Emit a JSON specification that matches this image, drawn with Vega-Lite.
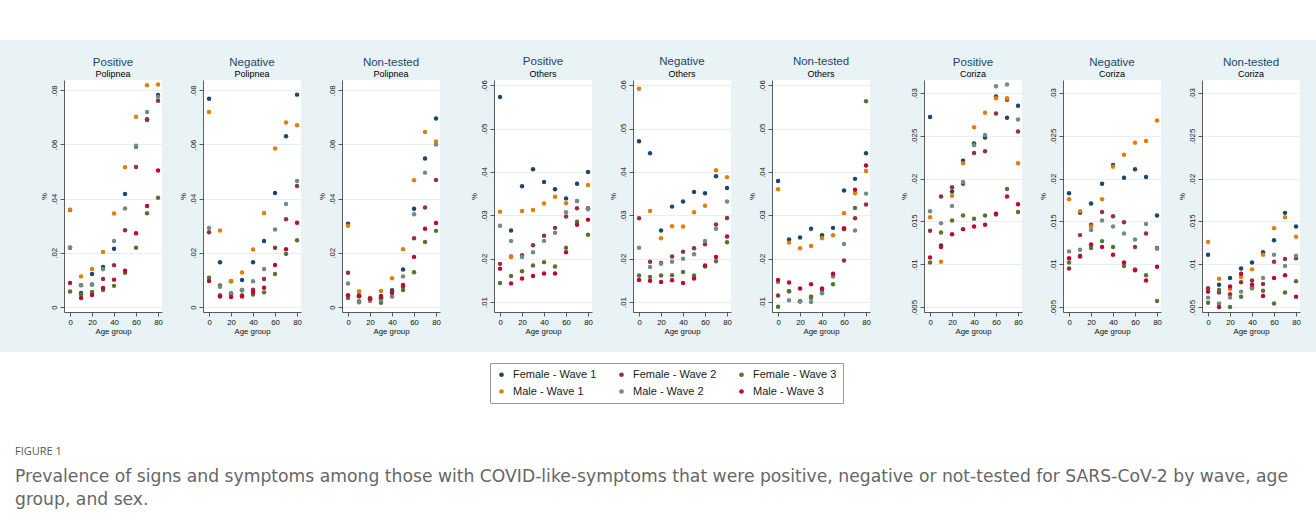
{
"$schema": "https://vega.github.io/schema/vega-lite/v6.json",
"background": "#e9f2f4",
"padding": 0,
"spacing": 16,
"datasets": {
"positive_polipnea": [
{"series":"Female - Wave 1","age":0,"pct":0.0358},{"series":"Female - Wave 1","age":10,"pct":0.0052},{"series":"Female - Wave 1","age":20,"pct":0.0122},{"series":"Female - Wave 1","age":30,"pct":0.0148},{"series":"Female - Wave 1","age":40,"pct":0.0215},{"series":"Female - Wave 1","age":50,"pct":0.0417},{"series":"Female - Wave 1","age":60,"pct":0.0592},{"series":"Female - Wave 1","age":70,"pct":0.0693},{"series":"Female - Wave 1","age":80,"pct":0.0783},
{"series":"Female - Wave 2","age":0,"pct":0.0219},{"series":"Female - Wave 2","age":10,"pct":0.0080},{"series":"Female - Wave 2","age":20,"pct":0.0083},{"series":"Female - Wave 2","age":30,"pct":0.0103},{"series":"Female - Wave 2","age":40,"pct":0.0154},{"series":"Female - Wave 2","age":50,"pct":0.0283},{"series":"Female - Wave 2","age":60,"pct":0.0517},{"series":"Female - Wave 2","age":70,"pct":0.0690},{"series":"Female - Wave 2","age":80,"pct":0.0761},
{"series":"Female - Wave 3","age":0,"pct":0.0057},{"series":"Female - Wave 3","age":10,"pct":0.0046},{"series":"Female - Wave 3","age":20,"pct":0.0055},{"series":"Female - Wave 3","age":30,"pct":0.0063},{"series":"Female - Wave 3","age":40,"pct":0.0078},{"series":"Female - Wave 3","age":50,"pct":0.0126},{"series":"Female - Wave 3","age":60,"pct":0.0219},{"series":"Female - Wave 3","age":70,"pct":0.0346},{"series":"Female - Wave 3","age":80,"pct":0.0403},
{"series":"Male - Wave 1","age":0,"pct":0.0359},{"series":"Male - Wave 1","age":10,"pct":0.0113},{"series":"Male - Wave 1","age":20,"pct":0.0140},{"series":"Male - Wave 1","age":30,"pct":0.0203},{"series":"Male - Wave 1","age":40,"pct":0.0345},{"series":"Male - Wave 1","age":50,"pct":0.0516},{"series":"Male - Wave 1","age":60,"pct":0.0702},{"series":"Male - Wave 1","age":70,"pct":0.0819},{"series":"Male - Wave 1","age":80,"pct":0.0821},
{"series":"Male - Wave 2","age":0,"pct":0.0220},{"series":"Male - Wave 2","age":10,"pct":0.0081},{"series":"Male - Wave 2","age":20,"pct":0.0082},{"series":"Male - Wave 2","age":30,"pct":0.0139},{"series":"Male - Wave 2","age":40,"pct":0.0244},{"series":"Male - Wave 2","age":50,"pct":0.0364},{"series":"Male - Wave 2","age":60,"pct":0.0595},{"series":"Male - Wave 2","age":70,"pct":0.0720},{"series":"Male - Wave 2","age":80,"pct":0.0776},
{"series":"Male - Wave 3","age":0,"pct":0.0089},{"series":"Male - Wave 3","age":10,"pct":0.0033},{"series":"Male - Wave 3","age":20,"pct":0.0044},{"series":"Male - Wave 3","age":30,"pct":0.0070},{"series":"Male - Wave 3","age":40,"pct":0.0101},{"series":"Male - Wave 3","age":50,"pct":0.0134},{"series":"Male - Wave 3","age":60,"pct":0.0272},{"series":"Male - Wave 3","age":70,"pct":0.0373},{"series":"Male - Wave 3","age":80,"pct":0.0504}
],
"negative_polipnea": [
{"series":"Female - Wave 1","age":0,"pct":0.0769},{"series":"Female - Wave 1","age":10,"pct":0.0165},{"series":"Female - Wave 1","age":20,"pct":0.0095},{"series":"Female - Wave 1","age":30,"pct":0.0100},{"series":"Female - Wave 1","age":40,"pct":0.0165},{"series":"Female - Wave 1","age":50,"pct":0.0244},{"series":"Female - Wave 1","age":60,"pct":0.0421},{"series":"Female - Wave 1","age":70,"pct":0.0630},{"series":"Female - Wave 1","age":80,"pct":0.0784},
{"series":"Female - Wave 2","age":0,"pct":0.0276},{"series":"Female - Wave 2","age":10,"pct":0.0079},{"series":"Female - Wave 2","age":20,"pct":0.0051},{"series":"Female - Wave 2","age":30,"pct":0.0062},{"series":"Female - Wave 2","age":40,"pct":0.0064},{"series":"Female - Wave 2","age":50,"pct":0.0103},{"series":"Female - Wave 2","age":60,"pct":0.0219},{"series":"Female - Wave 2","age":70,"pct":0.0324},{"series":"Female - Wave 2","age":80,"pct":0.0447},
{"series":"Female - Wave 3","age":0,"pct":0.0108},{"series":"Female - Wave 3","age":10,"pct":0.0043},{"series":"Female - Wave 3","age":20,"pct":0.0048},{"series":"Female - Wave 3","age":30,"pct":0.0043},{"series":"Female - Wave 3","age":40,"pct":0.0046},{"series":"Female - Wave 3","age":50,"pct":0.0054},{"series":"Female - Wave 3","age":60,"pct":0.0122},{"series":"Female - Wave 3","age":70,"pct":0.0196},{"series":"Female - Wave 3","age":80,"pct":0.0246},
{"series":"Male - Wave 1","age":0,"pct":0.0720},{"series":"Male - Wave 1","age":10,"pct":0.0282},{"series":"Male - Wave 1","age":20,"pct":0.0096},{"series":"Male - Wave 1","age":30,"pct":0.0127},{"series":"Male - Wave 1","age":40,"pct":0.0212},{"series":"Male - Wave 1","age":50,"pct":0.0347},{"series":"Male - Wave 1","age":60,"pct":0.0585},{"series":"Male - Wave 1","age":70,"pct":0.0681},{"series":"Male - Wave 1","age":80,"pct":0.0671},
{"series":"Male - Wave 2","age":0,"pct":0.0292},{"series":"Male - Wave 2","age":10,"pct":0.0075},{"series":"Male - Wave 2","age":20,"pct":0.0050},{"series":"Male - Wave 2","age":30,"pct":0.0064},{"series":"Male - Wave 2","age":40,"pct":0.0095},{"series":"Male - Wave 2","age":50,"pct":0.0140},{"series":"Male - Wave 2","age":60,"pct":0.0286},{"series":"Male - Wave 2","age":70,"pct":0.0380},{"series":"Male - Wave 2","age":80,"pct":0.0465},
{"series":"Male - Wave 3","age":0,"pct":0.0096},{"series":"Male - Wave 3","age":10,"pct":0.0039},{"series":"Male - Wave 3","age":20,"pct":0.0037},{"series":"Male - Wave 3","age":30,"pct":0.0039},{"series":"Male - Wave 3","age":40,"pct":0.0055},{"series":"Male - Wave 3","age":50,"pct":0.0071},{"series":"Male - Wave 3","age":60,"pct":0.0155},{"series":"Male - Wave 3","age":70,"pct":0.0213},{"series":"Male - Wave 3","age":80,"pct":0.0311}
],
"nontested_polipnea": [
{"series":"Female - Wave 1","age":0,"pct":0.0307},{"series":"Female - Wave 1","age":10,"pct":0.0040},{"series":"Female - Wave 1","age":20,"pct":0.0031},{"series":"Female - Wave 1","age":30,"pct":0.0041},{"series":"Female - Wave 1","age":40,"pct":0.0062},{"series":"Female - Wave 1","age":50,"pct":0.0138},{"series":"Female - Wave 1","age":60,"pct":0.0363},{"series":"Female - Wave 1","age":70,"pct":0.0548},{"series":"Female - Wave 1","age":80,"pct":0.0696},
{"series":"Female - Wave 2","age":0,"pct":0.0126},{"series":"Female - Wave 2","age":10,"pct":0.0043},{"series":"Female - Wave 2","age":20,"pct":0.0033},{"series":"Female - Wave 2","age":30,"pct":0.0031},{"series":"Female - Wave 2","age":40,"pct":0.0055},{"series":"Female - Wave 2","age":50,"pct":0.0075},{"series":"Female - Wave 2","age":60,"pct":0.0254},{"series":"Female - Wave 2","age":70,"pct":0.0367},{"series":"Female - Wave 2","age":80,"pct":0.0469},
{"series":"Female - Wave 3","age":0,"pct":0.0033},{"series":"Female - Wave 3","age":10,"pct":0.0021},{"series":"Female - Wave 3","age":20,"pct":0.0026},{"series":"Female - Wave 3","age":30,"pct":0.0016},{"series":"Female - Wave 3","age":40,"pct":0.0039},{"series":"Female - Wave 3","age":50,"pct":0.0063},{"series":"Female - Wave 3","age":60,"pct":0.0128},{"series":"Female - Wave 3","age":70,"pct":0.0240},{"series":"Female - Wave 3","age":80,"pct":0.0281},
{"series":"Male - Wave 1","age":0,"pct":0.0300},{"series":"Male - Wave 1","age":10,"pct":0.0058},{"series":"Male - Wave 1","age":20,"pct":0.0031},{"series":"Male - Wave 1","age":30,"pct":0.0059},{"series":"Male - Wave 1","age":40,"pct":0.0106},{"series":"Male - Wave 1","age":50,"pct":0.0213},{"series":"Male - Wave 1","age":60,"pct":0.0468},{"series":"Male - Wave 1","age":70,"pct":0.0646},{"series":"Male - Wave 1","age":80,"pct":0.0611},
{"series":"Male - Wave 2","age":0,"pct":0.0087},{"series":"Male - Wave 2","age":10,"pct":0.0017},{"series":"Male - Wave 2","age":20,"pct":0.0022},{"series":"Male - Wave 2","age":30,"pct":0.0025},{"series":"Male - Wave 2","age":40,"pct":0.0041},{"series":"Male - Wave 2","age":50,"pct":0.0113},{"series":"Male - Wave 2","age":60,"pct":0.0342},{"series":"Male - Wave 2","age":70,"pct":0.0496},{"series":"Male - Wave 2","age":80,"pct":0.0600},
{"series":"Male - Wave 3","age":0,"pct":0.0043},{"series":"Male - Wave 3","age":10,"pct":0.0041},{"series":"Male - Wave 3","age":20,"pct":0.0030},{"series":"Male - Wave 3","age":30,"pct":0.0036},{"series":"Male - Wave 3","age":40,"pct":0.0053},{"series":"Male - Wave 3","age":50,"pct":0.0081},{"series":"Male - Wave 3","age":60,"pct":0.0185},{"series":"Male - Wave 3","age":70,"pct":0.0289},{"series":"Male - Wave 3","age":80,"pct":0.0310}
],
"positive_others": [
{"series":"Female - Wave 1","age":0,"pct":0.0573},{"series":"Female - Wave 1","age":10,"pct":0.0265},{"series":"Female - Wave 1","age":20,"pct":0.0367},{"series":"Female - Wave 1","age":30,"pct":0.0406},{"series":"Female - Wave 1","age":40,"pct":0.0377},{"series":"Female - Wave 1","age":50,"pct":0.0360},{"series":"Female - Wave 1","age":60,"pct":0.0339},{"series":"Female - Wave 1","age":70,"pct":0.0373},{"series":"Female - Wave 1","age":80,"pct":0.0400},
{"series":"Female - Wave 2","age":0,"pct":0.0188},{"series":"Female - Wave 2","age":10,"pct":0.0205},{"series":"Female - Wave 2","age":20,"pct":0.0208},{"series":"Female - Wave 2","age":30,"pct":0.0231},{"series":"Female - Wave 2","age":40,"pct":0.0253},{"series":"Female - Wave 2","age":50,"pct":0.0271},{"series":"Female - Wave 2","age":60,"pct":0.0297},{"series":"Female - Wave 2","age":70,"pct":0.0316},{"series":"Female - Wave 2","age":80,"pct":0.0316},
{"series":"Female - Wave 3","age":0,"pct":0.0144},{"series":"Female - Wave 3","age":10,"pct":0.0160},{"series":"Female - Wave 3","age":20,"pct":0.0171},{"series":"Female - Wave 3","age":30,"pct":0.0184},{"series":"Female - Wave 3","age":40,"pct":0.0192},{"series":"Female - Wave 3","age":50,"pct":0.0182},{"series":"Female - Wave 3","age":60,"pct":0.0225},{"series":"Female - Wave 3","age":70,"pct":0.0285},{"series":"Female - Wave 3","age":80,"pct":0.0255},
{"series":"Male - Wave 1","age":0,"pct":0.0308},{"series":"Male - Wave 1","age":10,"pct":0.0204},{"series":"Male - Wave 1","age":20,"pct":0.0310},{"series":"Male - Wave 1","age":30,"pct":0.0312},{"series":"Male - Wave 1","age":40,"pct":0.0327},{"series":"Male - Wave 1","age":50,"pct":0.0343},{"series":"Male - Wave 1","age":60,"pct":0.0328},{"series":"Male - Wave 1","age":70,"pct":0.0333},{"series":"Male - Wave 1","age":80,"pct":0.0370},
{"series":"Male - Wave 2","age":0,"pct":0.0276},{"series":"Male - Wave 2","age":10,"pct":0.0241},{"series":"Male - Wave 2","age":20,"pct":0.0204},{"series":"Male - Wave 2","age":30,"pct":0.0215},{"series":"Male - Wave 2","age":40,"pct":0.0241},{"series":"Male - Wave 2","age":50,"pct":0.0260},{"series":"Male - Wave 2","age":60,"pct":0.0307},{"series":"Male - Wave 2","age":70,"pct":0.0333},{"series":"Male - Wave 2","age":80,"pct":0.0314},
{"series":"Male - Wave 3","age":0,"pct":0.0177},{"series":"Male - Wave 3","age":10,"pct":0.0143},{"series":"Male - Wave 3","age":20,"pct":0.0154},{"series":"Male - Wave 3","age":30,"pct":0.0160},{"series":"Male - Wave 3","age":40,"pct":0.0166},{"series":"Male - Wave 3","age":50,"pct":0.0166},{"series":"Male - Wave 3","age":60,"pct":0.0215},{"series":"Male - Wave 3","age":70,"pct":0.0278},{"series":"Male - Wave 3","age":80,"pct":0.0290}
],
"negative_others": [
{"series":"Female - Wave 1","age":0,"pct":0.0471},{"series":"Female - Wave 1","age":10,"pct":0.0443},{"series":"Female - Wave 1","age":20,"pct":0.0265},{"series":"Female - Wave 1","age":30,"pct":0.0320},{"series":"Female - Wave 1","age":40,"pct":0.0332},{"series":"Female - Wave 1","age":50,"pct":0.0354},{"series":"Female - Wave 1","age":60,"pct":0.0351},{"series":"Female - Wave 1","age":70,"pct":0.0390},{"series":"Female - Wave 1","age":80,"pct":0.0363},
{"series":"Female - Wave 2","age":0,"pct":0.0293},{"series":"Female - Wave 2","age":10,"pct":0.0193},{"series":"Female - Wave 2","age":20,"pct":0.0190},{"series":"Female - Wave 2","age":30,"pct":0.0205},{"series":"Female - Wave 2","age":40,"pct":0.0216},{"series":"Female - Wave 2","age":50,"pct":0.0224},{"series":"Female - Wave 2","age":60,"pct":0.0233},{"series":"Female - Wave 2","age":70,"pct":0.0279},{"series":"Female - Wave 2","age":80,"pct":0.0294},
{"series":"Female - Wave 3","age":0,"pct":0.0161},{"series":"Female - Wave 3","age":10,"pct":0.0158},{"series":"Female - Wave 3","age":20,"pct":0.0161},{"series":"Female - Wave 3","age":30,"pct":0.0162},{"series":"Female - Wave 3","age":40,"pct":0.0169},{"series":"Female - Wave 3","age":50,"pct":0.0161},{"series":"Female - Wave 3","age":60,"pct":0.0182},{"series":"Female - Wave 3","age":70,"pct":0.0194},{"series":"Female - Wave 3","age":80,"pct":0.0238},
{"series":"Male - Wave 1","age":0,"pct":0.0592},{"series":"Male - Wave 1","age":10,"pct":0.0310},{"series":"Male - Wave 1","age":20,"pct":0.0247},{"series":"Male - Wave 1","age":30,"pct":0.0275},{"series":"Male - Wave 1","age":40,"pct":0.0274},{"series":"Male - Wave 1","age":50,"pct":0.0307},{"series":"Male - Wave 1","age":60,"pct":0.0322},{"series":"Male - Wave 1","age":70,"pct":0.0404},{"series":"Male - Wave 1","age":80,"pct":0.0388},
{"series":"Male - Wave 2","age":0,"pct":0.0225},{"series":"Male - Wave 2","age":10,"pct":0.0181},{"series":"Male - Wave 2","age":20,"pct":0.0188},{"series":"Male - Wave 2","age":30,"pct":0.0193},{"series":"Male - Wave 2","age":40,"pct":0.0200},{"series":"Male - Wave 2","age":50,"pct":0.0210},{"series":"Male - Wave 2","age":60,"pct":0.0241},{"series":"Male - Wave 2","age":70,"pct":0.0269},{"series":"Male - Wave 2","age":80,"pct":0.0332},
{"series":"Male - Wave 3","age":0,"pct":0.0151},{"series":"Male - Wave 3","age":10,"pct":0.0149},{"series":"Male - Wave 3","age":20,"pct":0.0146},{"series":"Male - Wave 3","age":30,"pct":0.0150},{"series":"Male - Wave 3","age":40,"pct":0.0144},{"series":"Male - Wave 3","age":50,"pct":0.0154},{"series":"Male - Wave 3","age":60,"pct":0.0184},{"series":"Male - Wave 3","age":70,"pct":0.0204},{"series":"Male - Wave 3","age":80,"pct":0.0251}
],
"nontested_others": [
{"series":"Female - Wave 1","age":0,"pct":0.0379},{"series":"Female - Wave 1","age":10,"pct":0.0244},{"series":"Female - Wave 1","age":20,"pct":0.0249},{"series":"Female - Wave 1","age":30,"pct":0.0269},{"series":"Female - Wave 1","age":40,"pct":0.0254},{"series":"Female - Wave 1","age":50,"pct":0.0271},{"series":"Female - Wave 1","age":60,"pct":0.0357},{"series":"Female - Wave 1","age":70,"pct":0.0384},{"series":"Female - Wave 1","age":80,"pct":0.0443},
{"series":"Female - Wave 2","age":0,"pct":0.0115},{"series":"Female - Wave 2","age":10,"pct":0.0125},{"series":"Female - Wave 2","age":20,"pct":0.0102},{"series":"Female - Wave 2","age":30,"pct":0.0112},{"series":"Female - Wave 2","age":40,"pct":0.0128},{"series":"Female - Wave 2","age":50,"pct":0.0163},{"series":"Female - Wave 2","age":60,"pct":0.0196},{"series":"Female - Wave 2","age":70,"pct":0.0293},{"series":"Female - Wave 2","age":80,"pct":0.0325},
{"series":"Female - Wave 3","age":0,"pct":0.0089},{"series":"Female - Wave 3","age":10,"pct":0.0125},{"series":"Female - Wave 3","age":20,"pct":0.0102},{"series":"Female - Wave 3","age":30,"pct":0.0110},{"series":"Female - Wave 3","age":40,"pct":0.0121},{"series":"Female - Wave 3","age":50,"pct":0.0141},{"series":"Female - Wave 3","age":60,"pct":0.0268},{"series":"Female - Wave 3","age":70,"pct":0.0317},{"series":"Female - Wave 3","age":80,"pct":0.0563},
{"series":"Male - Wave 1","age":0,"pct":0.0360},{"series":"Male - Wave 1","age":10,"pct":0.0237},{"series":"Male - Wave 1","age":20,"pct":0.0224},{"series":"Male - Wave 1","age":30,"pct":0.0229},{"series":"Male - Wave 1","age":40,"pct":0.0247},{"series":"Male - Wave 1","age":50,"pct":0.0254},{"series":"Male - Wave 1","age":60,"pct":0.0305},{"series":"Male - Wave 1","age":70,"pct":0.0351},{"series":"Male - Wave 1","age":80,"pct":0.0402},
{"series":"Male - Wave 2","age":0,"pct":0.0146},{"series":"Male - Wave 2","age":10,"pct":0.0104},{"series":"Male - Wave 2","age":20,"pct":0.0102},{"series":"Male - Wave 2","age":30,"pct":0.0100},{"series":"Male - Wave 2","age":40,"pct":0.0120},{"series":"Male - Wave 2","age":50,"pct":0.0159},{"series":"Male - Wave 2","age":60,"pct":0.0234},{"series":"Male - Wave 2","age":70,"pct":0.0265},{"series":"Male - Wave 2","age":80,"pct":0.0350},
{"series":"Male - Wave 3","age":0,"pct":0.0151},{"series":"Male - Wave 3","age":10,"pct":0.0145},{"series":"Male - Wave 3","age":20,"pct":0.0131},{"series":"Male - Wave 3","age":30,"pct":0.0141},{"series":"Male - Wave 3","age":40,"pct":0.0131},{"series":"Male - Wave 3","age":50,"pct":0.0165},{"series":"Male - Wave 3","age":60,"pct":0.0270},{"series":"Male - Wave 3","age":70,"pct":0.0359},{"series":"Male - Wave 3","age":80,"pct":0.0415}
],
"positive_coriza": [
{"series":"Female - Wave 1","age":0,"pct":0.0272},{"series":"Female - Wave 1","age":10,"pct":0.0122},{"series":"Female - Wave 1","age":20,"pct":0.0185},{"series":"Female - Wave 1","age":30,"pct":0.0221},{"series":"Female - Wave 1","age":40,"pct":0.0241},{"series":"Female - Wave 1","age":50,"pct":0.0248},{"series":"Female - Wave 1","age":60,"pct":0.0296},{"series":"Female - Wave 1","age":70,"pct":0.0271},{"series":"Female - Wave 1","age":80,"pct":0.0285},
{"series":"Female - Wave 2","age":0,"pct":0.0139},{"series":"Female - Wave 2","age":10,"pct":0.0179},{"series":"Female - Wave 2","age":20,"pct":0.0190},{"series":"Female - Wave 2","age":30,"pct":0.0194},{"series":"Female - Wave 2","age":40,"pct":0.0230},{"series":"Female - Wave 2","age":50,"pct":0.0232},{"series":"Female - Wave 2","age":60,"pct":0.0276},{"series":"Female - Wave 2","age":70,"pct":0.0292},{"series":"Female - Wave 2","age":80,"pct":0.0255},
{"series":"Female - Wave 3","age":0,"pct":0.0102},{"series":"Female - Wave 3","age":10,"pct":0.0137},{"series":"Female - Wave 3","age":20,"pct":0.0151},{"series":"Female - Wave 3","age":30,"pct":0.0157},{"series":"Female - Wave 3","age":40,"pct":0.0153},{"series":"Female - Wave 3","age":50,"pct":0.0157},{"series":"Female - Wave 3","age":60,"pct":0.0158},{"series":"Female - Wave 3","age":70,"pct":0.0188},{"series":"Female - Wave 3","age":80,"pct":0.0161},
{"series":"Male - Wave 1","age":0,"pct":0.0155},{"series":"Male - Wave 1","age":10,"pct":0.0103},{"series":"Male - Wave 1","age":20,"pct":0.0180},{"series":"Male - Wave 1","age":30,"pct":0.0218},{"series":"Male - Wave 1","age":40,"pct":0.0260},{"series":"Male - Wave 1","age":50,"pct":0.0277},{"series":"Male - Wave 1","age":60,"pct":0.0294},{"series":"Male - Wave 1","age":70,"pct":0.0294},{"series":"Male - Wave 1","age":80,"pct":0.0218},
{"series":"Male - Wave 2","age":0,"pct":0.0162},{"series":"Male - Wave 2","age":10,"pct":0.0148},{"series":"Male - Wave 2","age":20,"pct":0.0168},{"series":"Male - Wave 2","age":30,"pct":0.0196},{"series":"Male - Wave 2","age":40,"pct":0.0239},{"series":"Male - Wave 2","age":50,"pct":0.0251},{"series":"Male - Wave 2","age":60,"pct":0.0308},{"series":"Male - Wave 2","age":70,"pct":0.0310},{"series":"Male - Wave 2","age":80,"pct":0.0269},
{"series":"Male - Wave 3","age":0,"pct":0.0108},{"series":"Male - Wave 3","age":10,"pct":0.0120},{"series":"Male - Wave 3","age":20,"pct":0.0135},{"series":"Male - Wave 3","age":30,"pct":0.0141},{"series":"Male - Wave 3","age":40,"pct":0.0144},{"series":"Male - Wave 3","age":50,"pct":0.0146},{"series":"Male - Wave 3","age":60,"pct":0.0159},{"series":"Male - Wave 3","age":70,"pct":0.0179},{"series":"Male - Wave 3","age":80,"pct":0.0170}
],
"negative_coriza": [
{"series":"Female - Wave 1","age":0,"pct":0.0183},{"series":"Female - Wave 1","age":10,"pct":0.0160},{"series":"Female - Wave 1","age":20,"pct":0.0171},{"series":"Female - Wave 1","age":30,"pct":0.0194},{"series":"Female - Wave 1","age":40,"pct":0.0216},{"series":"Female - Wave 1","age":50,"pct":0.0201},{"series":"Female - Wave 1","age":60,"pct":0.0211},{"series":"Female - Wave 1","age":70,"pct":0.0202},{"series":"Female - Wave 1","age":80,"pct":0.0157},
{"series":"Female - Wave 2","age":0,"pct":0.0095},{"series":"Female - Wave 2","age":10,"pct":0.0134},{"series":"Female - Wave 2","age":20,"pct":0.0146},{"series":"Female - Wave 2","age":30,"pct":0.0161},{"series":"Female - Wave 2","age":40,"pct":0.0156},{"series":"Female - Wave 2","age":50,"pct":0.0149},{"series":"Female - Wave 2","age":60,"pct":0.0120},{"series":"Female - Wave 2","age":70,"pct":0.0136},{"series":"Female - Wave 2","age":80,"pct":0.0119},
{"series":"Female - Wave 3","age":0,"pct":0.0102},{"series":"Female - Wave 3","age":10,"pct":0.0110},{"series":"Female - Wave 3","age":20,"pct":0.0119},{"series":"Female - Wave 3","age":30,"pct":0.0127},{"series":"Female - Wave 3","age":40,"pct":0.0120},{"series":"Female - Wave 3","age":50,"pct":0.0098},{"series":"Female - Wave 3","age":60,"pct":0.0094},{"series":"Female - Wave 3","age":70,"pct":0.0087},{"series":"Female - Wave 3","age":80,"pct":0.0057},
{"series":"Male - Wave 1","age":0,"pct":0.0176},{"series":"Male - Wave 1","age":10,"pct":0.0162},{"series":"Male - Wave 1","age":20,"pct":0.0144},{"series":"Male - Wave 1","age":30,"pct":0.0176},{"series":"Male - Wave 1","age":40,"pct":0.0214},{"series":"Male - Wave 1","age":50,"pct":0.0228},{"series":"Male - Wave 1","age":60,"pct":0.0242},{"series":"Male - Wave 1","age":70,"pct":0.0244},{"series":"Male - Wave 1","age":80,"pct":0.0268},
{"series":"Male - Wave 2","age":0,"pct":0.0115},{"series":"Male - Wave 2","age":10,"pct":0.0117},{"series":"Male - Wave 2","age":20,"pct":0.0140},{"series":"Male - Wave 2","age":30,"pct":0.0151},{"series":"Male - Wave 2","age":40,"pct":0.0144},{"series":"Male - Wave 2","age":50,"pct":0.0136},{"series":"Male - Wave 2","age":60,"pct":0.0129},{"series":"Male - Wave 2","age":70,"pct":0.0147},{"series":"Male - Wave 2","age":80,"pct":0.0118},
{"series":"Male - Wave 3","age":0,"pct":0.0107},{"series":"Male - Wave 3","age":10,"pct":0.0109},{"series":"Male - Wave 3","age":20,"pct":0.0123},{"series":"Male - Wave 3","age":30,"pct":0.0120},{"series":"Male - Wave 3","age":40,"pct":0.0111},{"series":"Male - Wave 3","age":50,"pct":0.0102},{"series":"Male - Wave 3","age":60,"pct":0.0093},{"series":"Male - Wave 3","age":70,"pct":0.0081},{"series":"Male - Wave 3","age":80,"pct":0.0097}
],
"nontested_coriza": [
{"series":"Female - Wave 1","age":0,"pct":0.0111},{"series":"Female - Wave 1","age":10,"pct":0.0076},{"series":"Female - Wave 1","age":20,"pct":0.0084},{"series":"Female - Wave 1","age":30,"pct":0.0095},{"series":"Female - Wave 1","age":40,"pct":0.0102},{"series":"Female - Wave 1","age":50,"pct":0.0114},{"series":"Female - Wave 1","age":60,"pct":0.0128},{"series":"Female - Wave 1","age":70,"pct":0.0160},{"series":"Female - Wave 1","age":80,"pct":0.0144},
{"series":"Female - Wave 2","age":0,"pct":0.0072},{"series":"Female - Wave 2","age":10,"pct":0.0067},{"series":"Female - Wave 2","age":20,"pct":0.0065},{"series":"Female - Wave 2","age":30,"pct":0.0079},{"series":"Female - Wave 2","age":40,"pct":0.0081},{"series":"Female - Wave 2","age":50,"pct":0.0077},{"series":"Female - Wave 2","age":60,"pct":0.0103},{"series":"Female - Wave 2","age":70,"pct":0.0106},{"series":"Female - Wave 2","age":80,"pct":0.0107},
{"series":"Female - Wave 3","age":0,"pct":0.0055},{"series":"Female - Wave 3","age":10,"pct":0.0070},{"series":"Female - Wave 3","age":20,"pct":0.0050},{"series":"Female - Wave 3","age":30,"pct":0.0062},{"series":"Female - Wave 3","age":40,"pct":0.0072},{"series":"Female - Wave 3","age":50,"pct":0.0069},{"series":"Female - Wave 3","age":60,"pct":0.0054},{"series":"Female - Wave 3","age":70,"pct":0.0067},{"series":"Female - Wave 3","age":80,"pct":0.0080},
{"series":"Male - Wave 1","age":0,"pct":0.0126},{"series":"Male - Wave 1","age":10,"pct":0.0083},{"series":"Male - Wave 1","age":20,"pct":0.0071},{"series":"Male - Wave 1","age":30,"pct":0.0085},{"series":"Male - Wave 1","age":40,"pct":0.0094},{"series":"Male - Wave 1","age":50,"pct":0.0111},{"series":"Male - Wave 1","age":60,"pct":0.0142},{"series":"Male - Wave 1","age":70,"pct":0.0155},{"series":"Male - Wave 1","age":80,"pct":0.0132},
{"series":"Male - Wave 2","age":0,"pct":0.0061},{"series":"Male - Wave 2","age":10,"pct":0.0054},{"series":"Male - Wave 2","age":20,"pct":0.0061},{"series":"Male - Wave 2","age":30,"pct":0.0068},{"series":"Male - Wave 2","age":40,"pct":0.0073},{"series":"Male - Wave 2","age":50,"pct":0.0084},{"series":"Male - Wave 2","age":60,"pct":0.0111},{"series":"Male - Wave 2","age":70,"pct":0.0098},{"series":"Male - Wave 2","age":80,"pct":0.0110},
{"series":"Male - Wave 3","age":0,"pct":0.0068},{"series":"Male - Wave 3","age":10,"pct":0.0050},{"series":"Male - Wave 3","age":20,"pct":0.0074},{"series":"Male - Wave 3","age":30,"pct":0.0089},{"series":"Male - Wave 3","age":40,"pct":0.0076},{"series":"Male - Wave 3","age":50,"pct":0.0063},{"series":"Male - Wave 3","age":60,"pct":0.0084},{"series":"Male - Wave 3","age":70,"pct":0.0087},{"series":"Male - Wave 3","age":80,"pct":0.0062}
]
},
"vconcat": [
{"width": 1316, "height": 40, "data": {"values": []}, "mark": "point", "encoding": {}, "view": {"fill": "white", "stroke": null}},
{"spacing": 0, "bounds": "flush", "hconcat": [
{"width": 63.5, "height": 232, "data": {"values": []}, "mark": "point", "encoding": {}, "view": {"fill": "#e9f2f4", "stroke": null}},
{"width": 98, "height": 232, "data": {"name": "positive_polipnea"}, "title": {"text": "Positive", "subtitle": "Polipnea"}, "mark": {"type": "circle", "size": 20, "opacity": 1},
 "encoding": {"x": {"field": "age", "type": "quantitative", "scale": {"domain": [-5.5, 83.6], "nice": false, "zero": false}, "axis": {"values": [0,20,40,60,80], "title": "Age group"}},
 "y": {"field": "pct", "type": "quantitative", "scale": {"domain": [-0.00185, 0.0838], "nice": false, "zero": false}, "axis": {"values": [0,0.02,0.04,0.06,0.08], "title": "%", "labelExpr": "datum.value == 0 ? '0' : slice(format(datum.value, '~g'), 1)"}},
 "color": {"field": "series", "type": "nominal", "scale": {"domain": ["Female - Wave 1","Female - Wave 2","Female - Wave 3","Male - Wave 1","Male - Wave 2","Male - Wave 3"], "range": ["#1a476f","#90353b","#55752f","#e37e00","#6e8e84","#c10534"]}, "legend": {"title": null}}}},
{"width": 40.5, "height": 232, "data": {"values": []}, "mark": "point", "encoding": {}, "view": {"fill": "#e9f2f4", "stroke": null}},
{"width": 98, "height": 232, "data": {"name": "negative_polipnea"}, "title": {"text": "Negative", "subtitle": "Polipnea"}, "mark": {"type": "circle", "size": 20, "opacity": 1},
 "encoding": {"x": {"field": "age", "type": "quantitative", "scale": {"domain": [-5.5, 83.6], "nice": false, "zero": false}, "axis": {"values": [0,20,40,60,80], "title": "Age group"}},
 "y": {"field": "pct", "type": "quantitative", "scale": {"domain": [-0.00185, 0.0838], "nice": false, "zero": false}, "axis": {"values": [0,0.02,0.04,0.06,0.08], "title": "%", "labelExpr": "datum.value == 0 ? '0' : slice(format(datum.value, '~g'), 1)"}},
 "color": {"field": "series", "type": "nominal", "scale": {"domain": ["Female - Wave 1","Female - Wave 2","Female - Wave 3","Male - Wave 1","Male - Wave 2","Male - Wave 3"], "range": ["#1a476f","#90353b","#55752f","#e37e00","#6e8e84","#c10534"]}, "legend": {"title": null}}}},
{"width": 40.5, "height": 232, "data": {"values": []}, "mark": "point", "encoding": {}, "view": {"fill": "#e9f2f4", "stroke": null}},
{"width": 98, "height": 232, "data": {"name": "nontested_polipnea"}, "title": {"text": "Non-tested", "subtitle": "Polipnea"}, "mark": {"type": "circle", "size": 20, "opacity": 1},
 "encoding": {"x": {"field": "age", "type": "quantitative", "scale": {"domain": [-5.5, 83.6], "nice": false, "zero": false}, "axis": {"values": [0,20,40,60,80], "title": "Age group"}},
 "y": {"field": "pct", "type": "quantitative", "scale": {"domain": [-0.00185, 0.0838], "nice": false, "zero": false}, "axis": {"values": [0,0.02,0.04,0.06,0.08], "title": "%", "labelExpr": "datum.value == 0 ? '0' : slice(format(datum.value, '~g'), 1)"}},
 "color": {"field": "series", "type": "nominal", "scale": {"domain": ["Female - Wave 1","Female - Wave 2","Female - Wave 3","Male - Wave 1","Male - Wave 2","Male - Wave 3"], "range": ["#1a476f","#90353b","#55752f","#e37e00","#6e8e84","#c10534"]}, "legend": {"title": null}}}},
{"width": 53.5, "height": 232, "data": {"values": []}, "mark": "point", "encoding": {}, "view": {"fill": "#e9f2f4", "stroke": null}},
{"width": 98, "height": 232, "data": {"name": "positive_others"}, "title": {"text": "Positive", "subtitle": "Others"}, "mark": {"type": "circle", "size": 20, "opacity": 1},
 "encoding": {"x": {"field": "age", "type": "quantitative", "scale": {"domain": [-5.5, 83.6], "nice": false, "zero": false}, "axis": {"values": [0,20,40,60,80], "title": "Age group"}},
 "y": {"field": "pct", "type": "quantitative", "scale": {"domain": [0.0077, 0.0612], "nice": false, "zero": false}, "axis": {"values": [0.01,0.02,0.03,0.04,0.05,0.06], "title": "%", "labelExpr": "datum.value == 0 ? '0' : slice(format(datum.value, '~g'), 1)"}},
 "color": {"field": "series", "type": "nominal", "scale": {"domain": ["Female - Wave 1","Female - Wave 2","Female - Wave 3","Male - Wave 1","Male - Wave 2","Male - Wave 3"], "range": ["#1a476f","#90353b","#55752f","#e37e00","#6e8e84","#c10534"]}, "legend": {"title": null}}}},
{"width": 40.5, "height": 232, "data": {"values": []}, "mark": "point", "encoding": {}, "view": {"fill": "#e9f2f4", "stroke": null}},
{"width": 98, "height": 232, "data": {"name": "negative_others"}, "title": {"text": "Negative", "subtitle": "Others"}, "mark": {"type": "circle", "size": 20, "opacity": 1},
 "encoding": {"x": {"field": "age", "type": "quantitative", "scale": {"domain": [-5.5, 83.6], "nice": false, "zero": false}, "axis": {"values": [0,20,40,60,80], "title": "Age group"}},
 "y": {"field": "pct", "type": "quantitative", "scale": {"domain": [0.0077, 0.0612], "nice": false, "zero": false}, "axis": {"values": [0.01,0.02,0.03,0.04,0.05,0.06], "title": "%", "labelExpr": "datum.value == 0 ? '0' : slice(format(datum.value, '~g'), 1)"}},
 "color": {"field": "series", "type": "nominal", "scale": {"domain": ["Female - Wave 1","Female - Wave 2","Female - Wave 3","Male - Wave 1","Male - Wave 2","Male - Wave 3"], "range": ["#1a476f","#90353b","#55752f","#e37e00","#6e8e84","#c10534"]}, "legend": {"title": null}}}},
{"width": 40.5, "height": 232, "data": {"values": []}, "mark": "point", "encoding": {}, "view": {"fill": "#e9f2f4", "stroke": null}},
{"width": 98, "height": 232, "data": {"name": "nontested_others"}, "title": {"text": "Non-tested", "subtitle": "Others"}, "mark": {"type": "circle", "size": 20, "opacity": 1},
 "encoding": {"x": {"field": "age", "type": "quantitative", "scale": {"domain": [-5.5, 83.6], "nice": false, "zero": false}, "axis": {"values": [0,20,40,60,80], "title": "Age group"}},
 "y": {"field": "pct", "type": "quantitative", "scale": {"domain": [0.0077, 0.0612], "nice": false, "zero": false}, "axis": {"values": [0.01,0.02,0.03,0.04,0.05,0.06], "title": "%", "labelExpr": "datum.value == 0 ? '0' : slice(format(datum.value, '~g'), 1)"}},
 "color": {"field": "series", "type": "nominal", "scale": {"domain": ["Female - Wave 1","Female - Wave 2","Female - Wave 3","Male - Wave 1","Male - Wave 2","Male - Wave 3"], "range": ["#1a476f","#90353b","#55752f","#e37e00","#6e8e84","#c10534"]}, "legend": {"title": null}}}},
{"width": 53.5, "height": 232, "data": {"values": []}, "mark": "point", "encoding": {}, "view": {"fill": "#e9f2f4", "stroke": null}},
{"width": 98, "height": 232, "data": {"name": "positive_coriza"}, "title": {"text": "Positive", "subtitle": "Coriza"}, "mark": {"type": "circle", "size": 20, "opacity": 1},
 "encoding": {"x": {"field": "age", "type": "quantitative", "scale": {"domain": [-5.5, 83.6], "nice": false, "zero": false}, "axis": {"values": [0,20,40,60,80], "title": "Age group"}},
 "y": {"field": "pct", "type": "quantitative", "scale": {"domain": [0.00442, 0.03152], "nice": false, "zero": false}, "axis": {"values": [0.005,0.01,0.015,0.02,0.025,0.03], "title": "%", "labelExpr": "datum.value == 0 ? '0' : slice(format(datum.value, '~g'), 1)"}},
 "color": {"field": "series", "type": "nominal", "scale": {"domain": ["Female - Wave 1","Female - Wave 2","Female - Wave 3","Male - Wave 1","Male - Wave 2","Male - Wave 3"], "range": ["#1a476f","#90353b","#55752f","#e37e00","#6e8e84","#c10534"]}, "legend": {"title": null}}}},
{"width": 40.5, "height": 232, "data": {"values": []}, "mark": "point", "encoding": {}, "view": {"fill": "#e9f2f4", "stroke": null}},
{"width": 98, "height": 232, "data": {"name": "negative_coriza"}, "title": {"text": "Negative", "subtitle": "Coriza"}, "mark": {"type": "circle", "size": 20, "opacity": 1},
 "encoding": {"x": {"field": "age", "type": "quantitative", "scale": {"domain": [-5.5, 83.6], "nice": false, "zero": false}, "axis": {"values": [0,20,40,60,80], "title": "Age group"}},
 "y": {"field": "pct", "type": "quantitative", "scale": {"domain": [0.00442, 0.03152], "nice": false, "zero": false}, "axis": {"values": [0.005,0.01,0.015,0.02,0.025,0.03], "title": "%", "labelExpr": "datum.value == 0 ? '0' : slice(format(datum.value, '~g'), 1)"}},
 "color": {"field": "series", "type": "nominal", "scale": {"domain": ["Female - Wave 1","Female - Wave 2","Female - Wave 3","Male - Wave 1","Male - Wave 2","Male - Wave 3"], "range": ["#1a476f","#90353b","#55752f","#e37e00","#6e8e84","#c10534"]}, "legend": {"title": null}}}},
{"width": 40.5, "height": 232, "data": {"values": []}, "mark": "point", "encoding": {}, "view": {"fill": "#e9f2f4", "stroke": null}},
{"width": 98, "height": 232, "data": {"name": "nontested_coriza"}, "title": {"text": "Non-tested", "subtitle": "Coriza"}, "mark": {"type": "circle", "size": 20, "opacity": 1},
 "encoding": {"x": {"field": "age", "type": "quantitative", "scale": {"domain": [-5.5, 83.6], "nice": false, "zero": false}, "axis": {"values": [0,20,40,60,80], "title": "Age group"}},
 "y": {"field": "pct", "type": "quantitative", "scale": {"domain": [0.00442, 0.03152], "nice": false, "zero": false}, "axis": {"values": [0.005,0.01,0.015,0.02,0.025,0.03], "title": "%", "labelExpr": "datum.value == 0 ? '0' : slice(format(datum.value, '~g'), 1)"}},
 "color": {"field": "series", "type": "nominal", "scale": {"domain": ["Female - Wave 1","Female - Wave 2","Female - Wave 3","Male - Wave 1","Male - Wave 2","Male - Wave 3"], "range": ["#1a476f","#90353b","#55752f","#e37e00","#6e8e84","#c10534"]}, "legend": {"title": null}}}}
]},
{"width": 1316, "height": 172, "data": {"values": []}, "mark": "point", "encoding": {}, "view": {"fill": "white", "stroke": null},
 "title": {"text": "FIGURE 1", "subtitle": ["Prevalence of signs and symptoms among those with COVID-like-symptoms that were positive, negative or not-tested for SARS-CoV-2 by wave, age", "group, and sex."], "orient": "bottom", "anchor": "start", "frame": "group", "offset": -78, "dx": 15, "font": "Open Sans", "fontSize": 11, "fontWeight": "normal", "color": "#555555", "subtitleFont": "DejaVu Sans", "subtitleFontSize": 17.2, "subtitleColor": "#666666", "subtitleLineHeight": 22.5, "subtitlePadding": 11}}
],
"config": {
 "view": {"stroke": null, "fill": "white"},
 "font": "Liberation Sans",
 "title": {"font": "Liberation Sans", "fontSize": 11.5, "fontWeight": "normal", "color": "#1a476f", "subtitleFont": "Liberation Sans", "subtitleFontSize": 9, "subtitleColor": "#000000", "subtitlePadding": 2, "offset": 1, "anchor": "middle", "frame": "group"},
 "axis": {"labelFont": "Liberation Sans", "titleFont": "Liberation Sans", "labelFontSize": 7.8, "titleFontSize": 7.8, "titleFontWeight": "normal", "labelColor": "#111111", "titleColor": "#111111", "domainColor": "#333333", "tickColor": "#333333", "domainWidth": 0.8, "tickWidth": 0.8, "tickSize": 4, "labelPadding": 2, "titlePadding": 2, "gridColor": "#e3ebee", "gridWidth": 0.8, "labelFlush": false},
 "axisY": {"labelAngle": 270, "grid": true},
 "axisX": {"grid": false, "titlePadding": 1.5, "labelAngle": 0},
 "legend": {"orient": "none", "legendX": 490, "legendY": 363, "direction": "horizontal", "columns": 3, "fillColor": "white", "strokeColor": "#999999", "padding": 6, "columnPadding": 19, "rowPadding": 5, "symbolType": "circle", "symbolSize": 22, "symbolStrokeWidth": 0, "labelFont": "Liberation Sans", "labelFontSize": 11, "labelColor": "#1a1a1a", "labelOffset": 6}
}
}
